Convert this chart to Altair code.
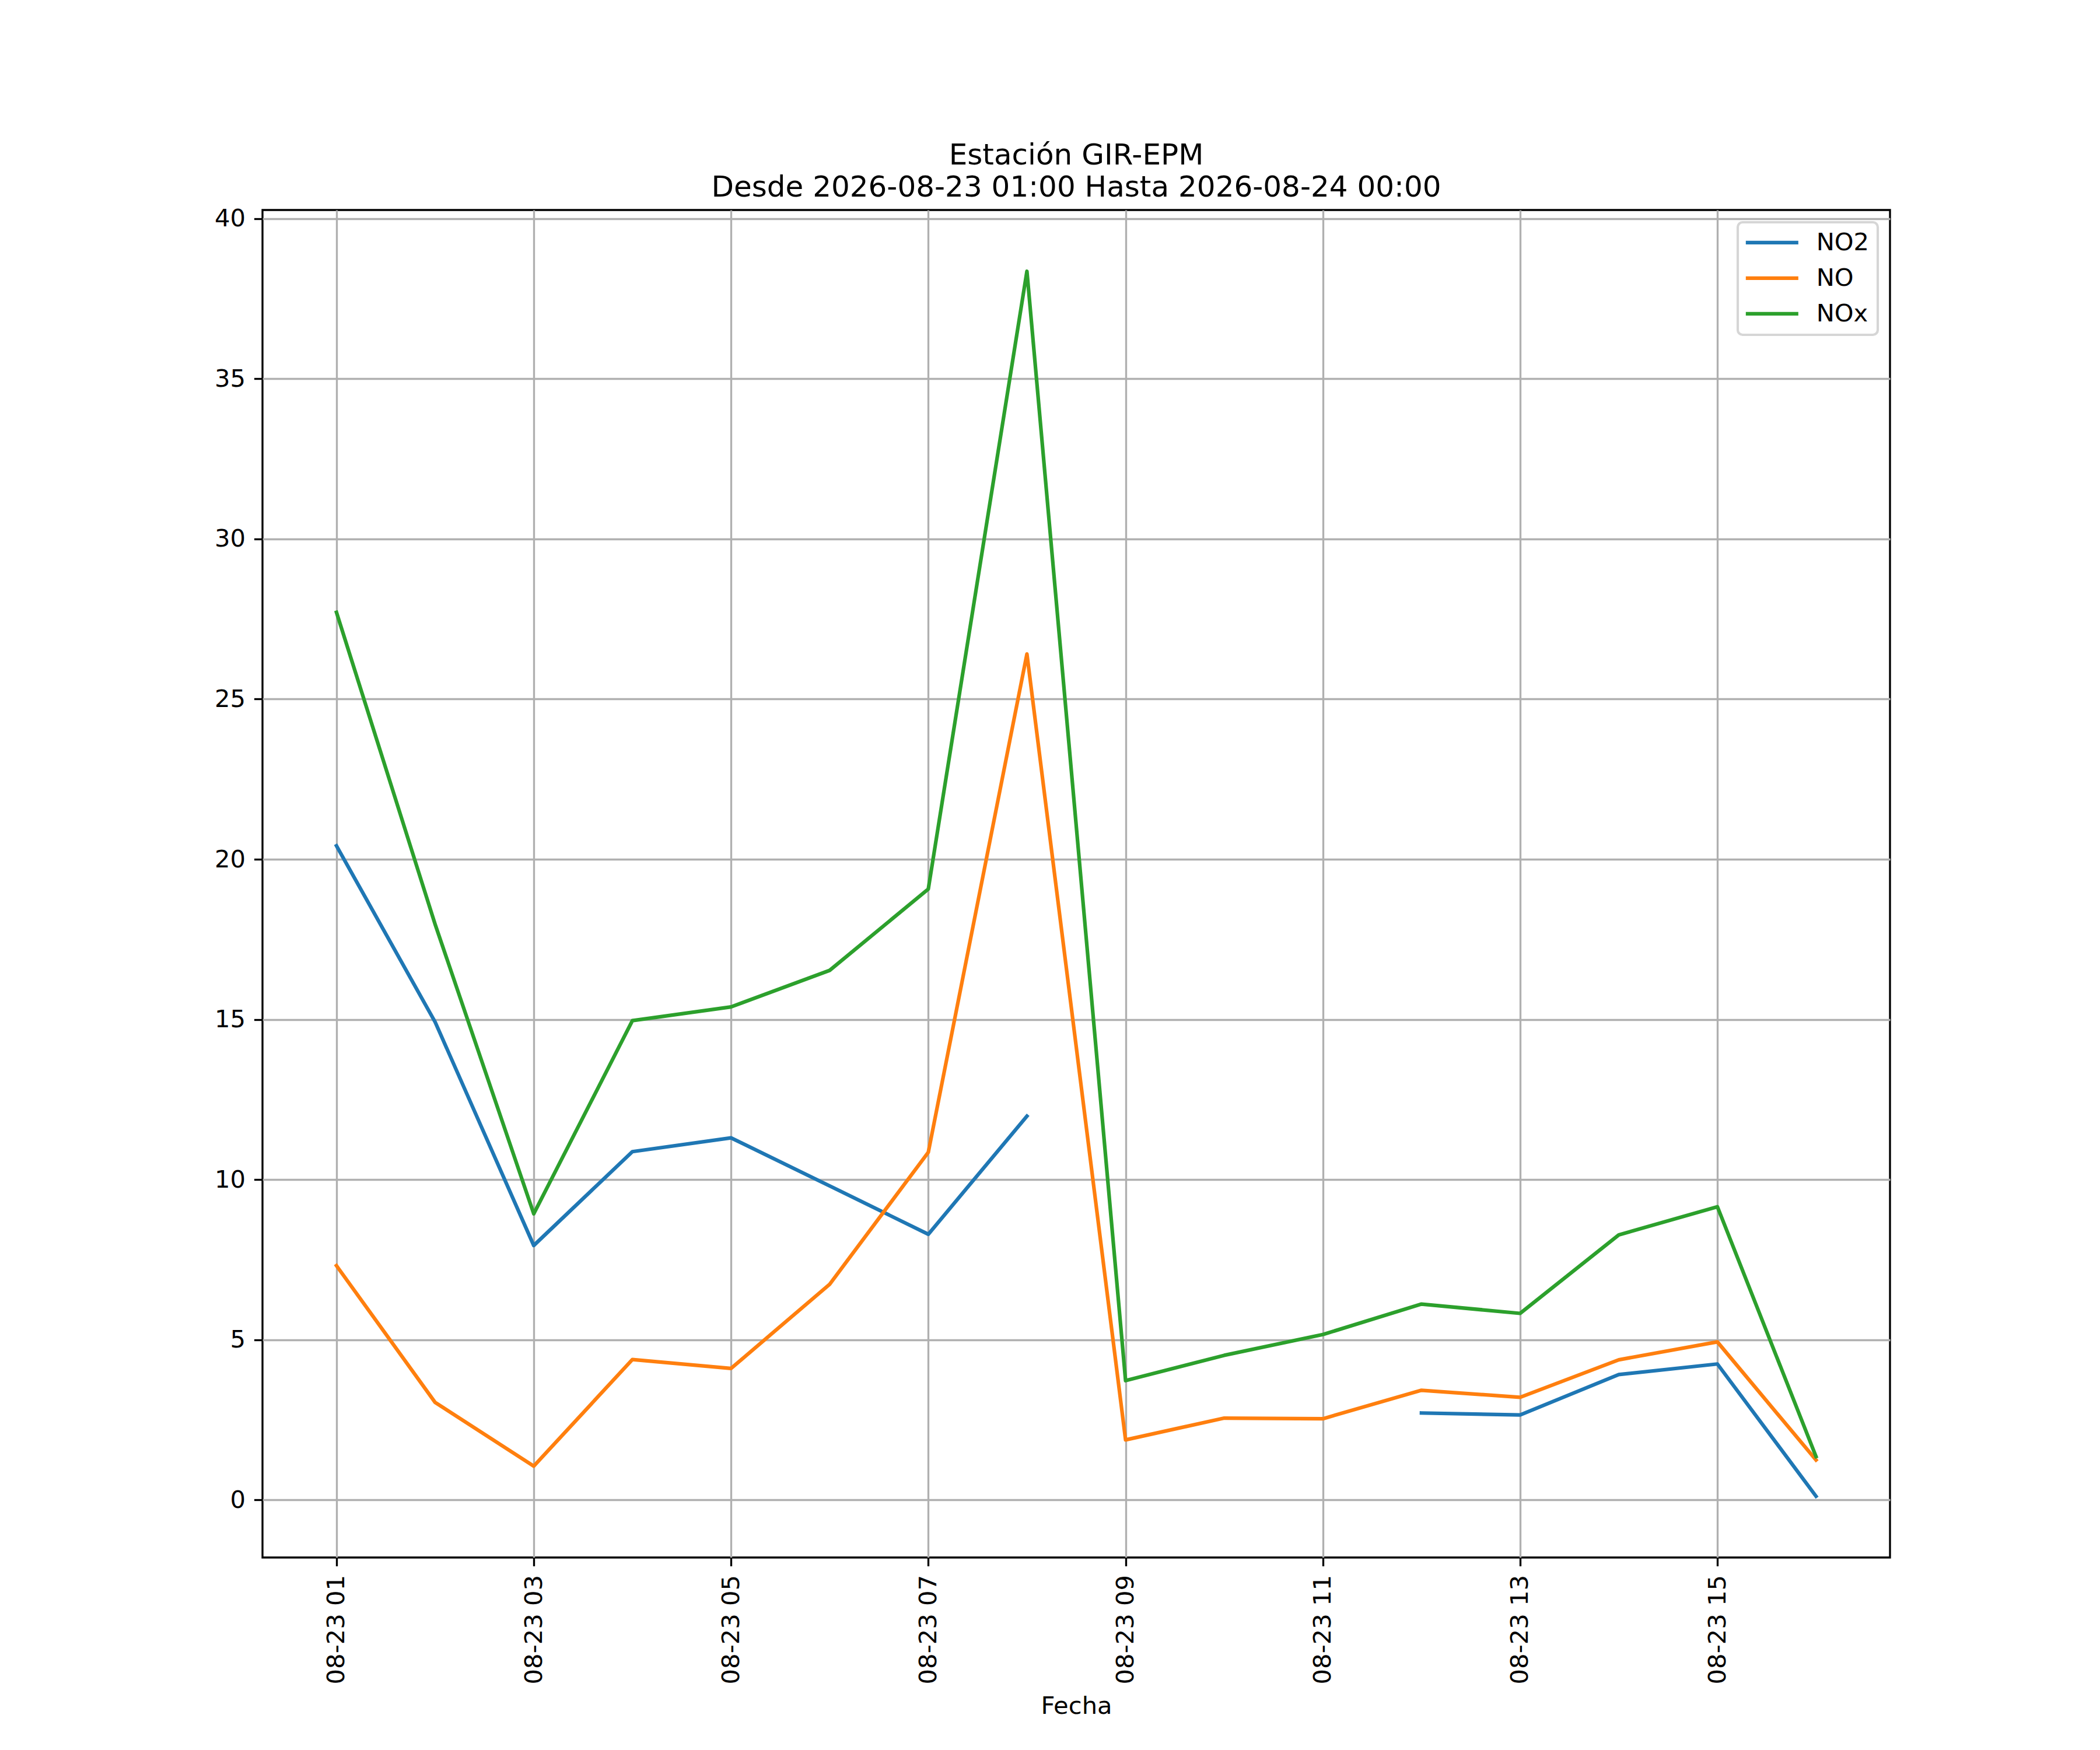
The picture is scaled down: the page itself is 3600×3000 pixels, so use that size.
import altair as alt
import pandas as pd

# ---- data ----
hours = list(range(1, 17))  # 2026-08-23 01:00 .. 16:00
no2 = [20.42, 14.92, 7.94, 10.87, 11.30, 9.80, 8.29, 11.98,
       None, None, None, 2.71, 2.65, 3.91, 4.24, 0.11]
no = [7.31, 3.04, 1.05, 4.38, 4.10, 6.73, 10.85, 26.41,
      1.87, 2.55, 2.53, 3.42, 3.20, 4.37, 4.93, 1.24]
nox = [27.71, 17.97, 8.93, 14.96, 15.39, 16.53, 19.07, 38.36,
       3.72, 4.51, 5.16, 6.11, 5.82, 8.27, 9.15, 1.35]
series_names = ["NO2", "NO", "NOx"]
series_colors = ["#1f77b4", "#ff7f0e", "#2ca02c"]
x_tick_hours = [1, 3, 5, 7, 9, 11, 13, 15]
y_ticks = [0, 5, 10, 15, 20, 25, 30, 35, 40]
title_lines = ["Estación GIR-EPM", "Desde 2026-08-23 01:00 Hasta 2026-08-24 00:00"]

# ---- long table, splitting lines at missing values ----
rows = []
for name, vals in zip(series_names, [no2, no, nox]):
    seg = 0
    for h, v in zip(hours, vals):
        if v is None:
            seg += 1
            continue
        rows.append({"fecha": f"2026-08-23T{h:02d}:00:00", "valor": v,
                     "serie": name, "grupo": f"{name}-{seg}"})
df = pd.DataFrame(rows)

PT = 300 / 72.0
FONT = "DejaVu Sans"

# matplotlib-like 5% margins
all_vals = [v for v in no2 + no + nox if v is not None]
ymin, ymax = min(all_vals), max(all_vals)
ypad = 0.05 * (ymax - ymin)
hmin, hmax = min(hours), max(hours)
xpad_min = 0.05 * (hmax - hmin) * 60
x_lo_min = hmin * 60 - xpad_min
x_hi_min = hmax * 60 + xpad_min


def dt(total_minutes):
    h = int(total_minutes // 60)
    m = int(round(total_minutes - h * 60))
    return alt.DateTime(year=2026, month=8, date=23, hours=h, minutes=m)


x_values = [alt.DateTime(year=2026, month=8, date=23, hours=h) for h in x_tick_hours]

chart = alt.Chart(df).mark_line(
    strokeWidth=1.5 * PT, strokeCap="square", strokeJoin="round", clip=True
).encode(
    x=alt.X(
        "fecha:T",
        scale=alt.Scale(domain=[dt(x_lo_min), dt(x_hi_min)], nice=False),
        axis=alt.Axis(
            values=x_values, format="%m-%d %H", labelAngle=270,
            title="Fecha", labelPadding=15, titlePadding=34,
            labelFlush=False, labelOverlap=False, labelLimit=0,
        ),
    ),
    y=alt.Y(
        "valor:Q",
        scale=alt.Scale(domain=[ymin - ypad, ymax + ypad], nice=False, zero=False),
        axis=alt.Axis(values=y_ticks, format="d", title=None, labelPadding=15,
                      labelFlush=False, labelOverlap=False, labelLimit=0),
    ),
    color=alt.Color(
        "serie:N",
        scale=alt.Scale(domain=series_names, range=series_colors),
        legend=alt.Legend(title=None),
    ),
    detail="grupo:N",
).properties(
    width=2790,
    height=2310,
    background="white",
    autosize=alt.AutoSizeParams(type="none"),
    padding={"left": 442, "top": 352, "right": 350, "bottom": 320},
    title=alt.TitleParams(
        text=title_lines, font=FONT, fontSize=12 * PT, fontWeight="normal",
        color="black", lineHeight=55, anchor="middle", frame="group", offset=8,
    ),
).configure_view(
    stroke="black", strokeWidth=0.8 * PT, fill="white"
).configure_axis(
    labelFont=FONT, labelFontSize=10 * PT, labelColor="black",
    titleFont=FONT, titleFontSize=10 * PT, titleFontWeight="normal", titleColor="black",
    tickColor="black", tickWidth=0.8 * PT, tickSize=3.5 * PT,
    gridColor="#b0b0b0", gridWidth=0.8 * PT, gridOpacity=1, grid=True,
    domain=False, labelLimit=0,
).configure_legend(
    orient="top-right", offset=21, padding=14,
    fillColor="rgba(255,255,255,0.8)", strokeColor="#d6d6d6",
    strokeWidth=1.0 * PT, cornerRadius=8.3,
    symbolType="M-3,0L3,0", symbolSize=900, symbolStrokeWidth=1.5 * PT,
    symbolOffset=24, labelOffset=55, rowPadding=18,
    labelFont=FONT, labelFontSize=10 * PT, labelColor="black", labelLimit=0,
)

chart.save("out.html", embed_options={"renderer": "svg", "actions": False})
